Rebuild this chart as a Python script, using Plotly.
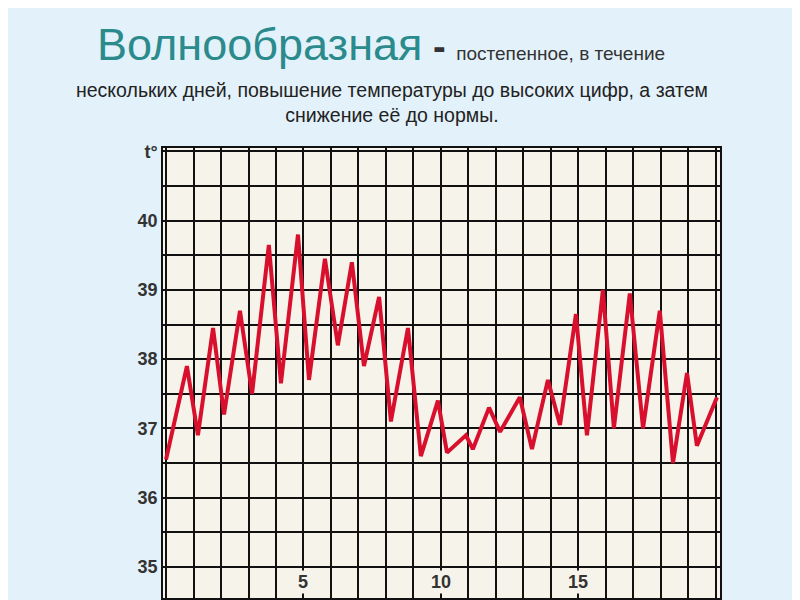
import plotly.graph_objects as go

# day positions and temperatures
days = [0.0, 0.76, 1.16, 1.71, 2.11, 2.69, 3.13, 3.74, 4.18, 4.80, 5.2, 5.78, 6.25,
        6.76, 7.2, 7.75, 8.18, 8.80, 9.27, 9.89, 10.22, 10.91, 11.16, 11.75, 12.15,
        12.87, 13.31, 13.89, 14.33, 14.91, 15.31, 15.89, 16.29, 16.87, 17.35, 17.96,
        18.44, 18.95, 19.31, 20.04]
temps = [36.55, 37.9, 36.9, 38.45, 37.2, 38.7, 37.5, 39.65, 37.65, 39.8, 37.7, 39.45,
         38.2, 39.4, 37.9, 38.9, 37.1, 38.45, 36.6, 37.4, 36.65, 36.9, 36.7, 37.3,
         36.95, 37.45, 36.7, 37.7, 37.05, 38.65, 36.9, 39.0, 37.0, 38.95, 37.0, 38.7,
         36.5, 37.8, 36.75, 37.45]
x_labels = [5, 10, 15]

fig = go.Figure(go.Scatter(x=days, y=temps, mode="lines",
                           line=dict(color="#d8102e", width=4)))

fig.update_xaxes(range=[-0.11, 20.15], tickvals=list(range(0, 21)), showticklabels=False,
                 showgrid=True, gridcolor="#111", gridwidth=1.5, zeroline=False,
                 showline=True, linecolor="#111", linewidth=1.5, mirror=True,
                 automargin=False)
fig.update_yaxes(range=[34.55, 41.05], tickvals=[v / 2 for v in range(70, 83)],
                 ticktext=[("<b>%d</b>" % (v // 2)) if v % 2 == 0 and v < 82 else ("<b>t°</b>" if v == 82 else "")
                           for v in range(70, 83)],
                 tickfont=dict(family="Liberation Sans", size=18, color="#333"),
                 showgrid=True, gridcolor="#111", gridwidth=1.5, zeroline=False,
                 showline=True, linecolor="#111", linewidth=1.5, mirror=True,
                 automargin=False)

annotations = []
for d in x_labels:
    annotations.append(dict(x=d, y=34.78, text=f"<b>{d}</b>", showarrow=False,
                            font=dict(family="Liberation Sans", size=18, color="#333"),
                            bgcolor="#f5f3ea"))

annotations.append(dict(
    xref="paper", yref="paper", x=-0.122, y=1.229, xanchor="left", yanchor="middle",
    showarrow=False,
    text="<span style='font-size:45px;color:#2a8a8c'>Волнообразная</span>"
         "<span style='font-size:38px;color:#333'> <b>-</b> </span>"
         "<span style='font-size:19px;color:#333'>постепенное, в течение</span>",
    font=dict(family="Liberation Sans")))
annotations.append(dict(
    xref="paper", yref="paper", x=0.411, y=1.10, xanchor="center", yanchor="middle",
    showarrow=False, align="center",
    text="нескольких дней, повышение температуры до высоких цифр, а затем<br>"
         "снижение её до нормы.",
    font=dict(family="Liberation Sans", size=19.5, color="#222")))

fig.update_layout(
    width=800, height=600, showlegend=False,
    margin=dict(l=155, r=88, t=140, b=10),
    paper_bgcolor="#e3f1fa", plot_bgcolor="#f5f3ea",
    annotations=annotations,
)

fig.write_html("out.html")
